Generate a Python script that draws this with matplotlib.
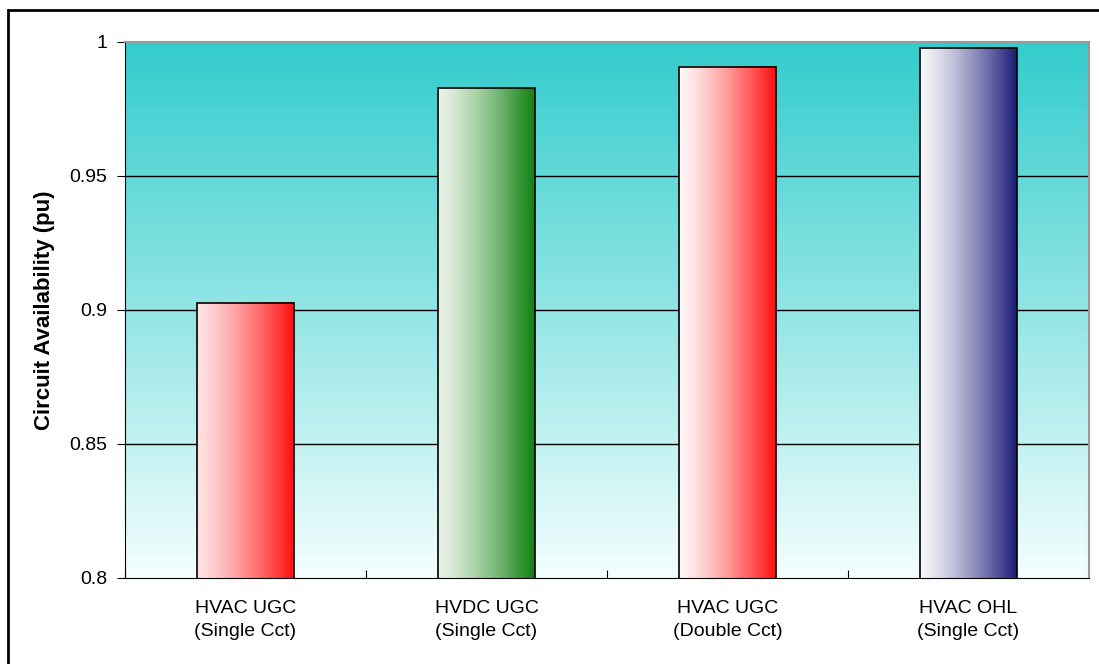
import numpy as np
import matplotlib.pyplot as plt
from matplotlib.colors import LinearSegmentedColormap
from matplotlib.patches import Rectangle

categories = ["HVAC UGC\n(Single Cct)", "HVDC UGC\n(Single Cct)",
              "HVAC UGC\n(Double Cct)", "HVAC OHL\n(Single Cct)"]
availability = [0.9027, 0.9828, 0.9907, 0.9978]
bar_start_colors = ["#FFE2E2", "#E8F3E6", "#FFF6F6", "#F6F6FA"]
bar_end_colors = ["#FF1010", "#108010", "#FF1010", "#1C1C78"]
y_ticks = [0.8, 0.85, 0.9, 0.95, 1.0]
y_tick_labels = ["0.8", "0.85", "0.9", "0.95", "1"]

plt.rcParams["font.family"] = ["Liberation Sans", "DejaVu Sans"]

fig = plt.figure(figsize=(10.99, 6.64), dpi=100)
ax = fig.add_axes([125 / 1099, 1 - 578 / 664, 964 / 1099, 536 / 664])

# outer frame of the chart area
fig.patches.append(Rectangle((8 / 1099, -0.05), 1.2, 1 - 10 / 664 + 0.05,
                             transform=fig.transFigure, fill=False,
                             edgecolor="black", linewidth=2))

# background gradient
bg = LinearSegmentedColormap.from_list("bg", ["#F4FEFE", "#33CCCC"])
ax.imshow(np.linspace(0, 1, 256).reshape(-1, 1), cmap=bg, aspect="auto",
          extent=[0, 1, 0, 1], origin="lower", transform=ax.transAxes,
          zorder=0)

x = np.arange(len(categories))
bars = ax.bar(x, availability, width=0.4, bottom=0, color="none",
              edgecolor="black", linewidth=1.2, zorder=3)

for bar, c0, c1 in zip(bars, bar_start_colors, bar_end_colors):
    cmap = LinearSegmentedColormap.from_list("g", [c0, c1])
    x0 = bar.get_x()
    ax.imshow(np.linspace(0, 1, 256).reshape(1, -1) ** 1.3, cmap=cmap,
              aspect="auto", extent=[x0, x0 + bar.get_width(), 0.8,
                                     bar.get_height()], zorder=2)

ax.set_xlim(-0.5, len(categories) - 0.5)
ax.set_ylim(0.8, 1.0)

# gridlines only between the bottom and top of the plot area
for yv in y_ticks[1:-1]:
    ax.axhline(yv, color="black", linewidth=1, zorder=1)

ax.set_yticks(y_ticks)
ax.set_yticklabels(y_tick_labels, fontsize=14)

ax.set_xticks(np.arange(len(categories) + 1) - 0.5, minor=False)
ax.set_xticklabels([])
ax.set_xticks(x, minor=True)
ax.set_xticklabels(categories, minor=True, fontsize=14, linespacing=1.45)
ax.tick_params(axis="x", which="minor", length=0, pad=16)
ax.tick_params(axis="x", which="major", length=6, direction="in")
ax.tick_params(axis="y", length=6, direction="out", pad=7)

ax.spines["left"].set_color("black")
ax.spines["bottom"].set_color("black")
ax.spines["top"].set_color("#999999")
ax.spines["right"].set_color("#999999")
ax.spines["top"].set_linewidth(1.5)
ax.spines["right"].set_linewidth(1.5)

ax.set_ylabel("Circuit Availability (pu)", fontsize=16, fontweight="bold",
              labelpad=10)

fig.savefig("out.png", dpi=100)
